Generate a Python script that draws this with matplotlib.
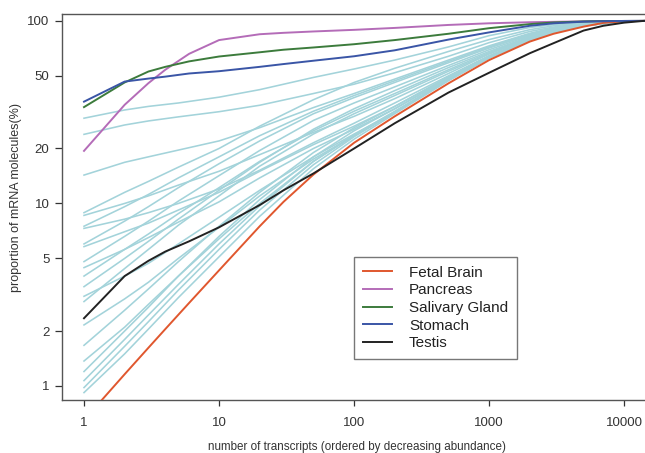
import matplotlib
matplotlib.use("Agg")
import matplotlib.pyplot as plt

plt.rcParams['font.family'] = ['Liberation Sans', 'DejaVu Sans']

# transcript ranks used for the light blue (other tissues) curves
N_BG = [1, 2, 3, 5, 10, 20, 50, 100, 200, 500, 1000, 2000, 3000, 5000, 10000, 14000]

other_tissues = [
    [29.3, 32.5, 34.0, 35.5, 38.2, 42.0, 49.0, 54.5, 61.0, 72.0, 83.0, 92.0, 95.5, 98.3, 99.8, 100],
    [23.9, 26.9, 28.3, 29.8, 31.8, 34.5, 40.0, 45.0, 52.0, 64.0, 76.0, 87.5, 92.5, 97.0, 99.7, 100],
    [14.3, 16.8, 18.0, 19.6, 22.0, 26.0, 33.5, 40.0, 48.0, 61.0, 73.0, 85.5, 91.5, 96.5, 99.6, 100],
    [8.9, 11.5, 13.2, 15.8, 20.0, 26.5, 37.0, 46.0, 55.0, 68.0, 79.0, 89.5, 94.0, 97.8, 99.8, 100],
    [8.6, 10.0, 11.0, 12.6, 15.0, 18.5, 24.5, 30.0, 37.5, 51.5, 66.0, 80.5, 88.0, 95.0, 99.4, 100],
    [7.5, 9.6, 11.2, 13.8, 18.0, 23.5, 32.0, 39.0, 47.0, 60.0, 72.0, 84.5, 90.8, 96.2, 99.6, 100],
    [7.3, 8.2, 8.9, 10.0, 12.0, 15.2, 21.5, 27.5, 35.5, 50.0, 64.5, 79.5, 87.5, 94.5, 99.3, 100],
    [6.0, 8.0, 9.6, 12.2, 16.5, 22.0, 31.0, 38.0, 46.0, 59.0, 71.0, 84.0, 90.5, 96.0, 99.6, 100],
    [5.8, 7.0, 7.8, 9.2, 11.5, 15.0, 21.0, 26.5, 34.0, 49.0, 64.0, 79.0, 87.3, 94.5, 99.3, 100],
    [4.8, 6.6, 8.0, 10.3, 14.2, 19.5, 28.5, 35.5, 43.5, 57.0, 69.5, 83.0, 90.0, 95.8, 99.5, 100],
    [4.45, 5.6, 6.5, 7.9, 10.2, 13.8, 20.0, 25.5, 33.0, 48.5, 63.5, 79.0, 87.3, 94.3, 99.3, 100],
    [4.0, 5.6, 6.8, 8.8, 12.2, 17.0, 25.0, 32.0, 40.0, 54.0, 67.0, 81.5, 89.0, 95.5, 99.5, 100],
    [3.5, 5.0, 6.2, 8.2, 11.8, 16.8, 25.5, 33.0, 41.5, 55.5, 68.0, 82.0, 89.3, 95.5, 99.5, 100],
    [3.1, 4.0, 4.7, 6.0, 8.4, 11.8, 18.0, 24.0, 31.5, 47.5, 63.0, 78.5, 87.0, 94.2, 99.3, 100],
    [2.9, 4.4, 5.6, 7.6, 11.0, 16.0, 24.0, 31.0, 39.0, 53.0, 66.0, 80.5, 88.3, 95.0, 99.4, 100],
    [2.16, 3.0, 3.7, 5.0, 7.4, 11.0, 17.5, 23.5, 31.5, 47.5, 63.0, 78.2, 86.8, 94.2, 99.3, 100],
    [1.67, 2.6, 3.4, 4.8, 7.5, 11.5, 19.0, 26.0, 34.0, 49.5, 64.0, 79.0, 87.3, 94.5, 99.3, 100],
    [1.37, 2.1, 2.8, 4.0, 6.4, 10.0, 17.0, 23.5, 31.5, 47.5, 62.8, 78.0, 86.6, 94.0, 99.3, 100],
    [1.2, 2.0, 2.7, 4.0, 6.6, 10.5, 18.0, 25.0, 33.0, 48.5, 63.5, 78.5, 87.0, 94.3, 99.3, 100],
    [1.07, 1.8, 2.45, 3.6, 6.0, 9.7, 17.0, 23.8, 32.0, 48.0, 63.3, 78.6, 87.0, 94.3, 99.3, 100],
    [0.98, 1.65, 2.25, 3.35, 5.6, 9.2, 16.3, 23.2, 31.5, 47.5, 63.0, 78.3, 86.8, 94.2, 99.3, 100],
    [0.92, 1.5, 2.05, 3.05, 5.1, 8.5, 15.5, 22.5, 31.0, 47.0, 62.5, 78.0, 86.5, 94.0, 99.3, 100],
]

# transcript ranks for the highlighted tissues
N_HL = [1, 2, 3, 4, 6, 10, 20, 30, 50, 100, 200, 500, 1000, 2000, 3000, 5000, 7000, 10000, 14000]

fetal_brain = [0.65, 1.16, 1.62, 2.05, 2.85, 4.3, 7.5, 10.2, 14.4, 21.5, 30.0, 45.5, 61.0, 77.0, 85.0, 93.0, 97.5, 99.5, 100]
pancreas = [19.4, 34.7, 45.6, 54.0, 66.0, 78.5, 84.5, 86.0, 87.5, 89.3, 91.5, 95.0, 97.0, 98.3, 98.8, 99.4, 99.7, 99.9, 100]
salivary = [33.7, 46.0, 52.8, 56.0, 60.0, 63.8, 67.3, 69.5, 71.5, 74.5, 78.5, 85.0, 91.2, 96.0, 98.0, 99.3, 99.7, 99.9, 100]
stomach = [36.1, 46.5, 48.3, 49.5, 51.5, 53.0, 56.0, 58.0, 60.5, 64.0, 69.0, 79.0, 86.5, 94.0, 97.0, 99.0, 99.6, 99.9, 100]
testis = [2.35, 4.0, 4.85, 5.45, 6.2, 7.4, 9.8, 11.8, 14.6, 20.0, 27.5, 40.5, 52.0, 66.5, 75.5, 88.5, 94.0, 97.8, 100]

highlight_names = ["Fetal Brain", "Pancreas", "Salivary Gland", "Stomach", "Testis"]
highlight_data = [fetal_brain, pancreas, salivary, stomach, testis]
highlight_colors = ["#E0572E", "#B46CB8", "#3C7B3C", "#3A55A6", "#222222"]

x_ticks = [1, 10, 100, 1000, 10000]
y_ticks = [1, 2, 5, 10, 20, 50, 100]

fig = plt.figure(figsize=(6.45, 4.53), dpi=100)
ax = fig.add_axes([0.0961, 0.117, 0.915, 0.852])

for vals in other_tissues:
    ax.plot(N_BG, vals, color="#A3D3DA", lw=1.15, zorder=2)

handles = []
for name, vals, col in zip(highlight_names, highlight_data, highlight_colors):
    h, = ax.plot(N_HL, vals, color=col, lw=1.4, label=name, zorder=3)
    handles.append(h)

ax.set_xscale("log")
ax.set_yscale("log")
ax.set_xlim(0.687, 16100)
ax.set_ylim(0.838, 109)

ax.set_xticks(x_ticks)
ax.set_xticklabels([str(v) for v in x_ticks])
ax.set_yticks(y_ticks)
ax.set_yticklabels([str(v) for v in y_ticks])
ax.minorticks_off()

ax.tick_params(axis="x", length=4.5, width=0.9, pad=8, labelsize=9.5, colors="#333333")
ax.tick_params(axis="y", length=5, width=0.9, pad=4, labelsize=9.5, colors="#333333")

for side in ["left", "top", "bottom"]:
    ax.spines[side].set_color("#555555")
    ax.spines[side].set_linewidth(1.0)
ax.spines["right"].set_visible(False)

fig.text(0.553, 0.013, "number of transcripts (ordered by decreasing abundance)",
         ha="center", va="center", fontsize=8.4, color="#333333")
fig.text(0.025, 0.565, "proportion of mRNA molecules(%)", rotation=90,
         ha="center", va="center", fontsize=9, color="#333333")

leg = ax.legend(handles=handles, loc="upper left", bbox_to_anchor=(0.495, 0.370),
                fontsize=11, frameon=True, fancybox=False, borderaxespad=0,
                handlelength=1.9, handletextpad=1.15, labelspacing=0.24, borderpad=0.55)
leg.get_frame().set_edgecolor("#555555")
leg.get_frame().set_linewidth(1.0)
for t in leg.get_texts():
    t.set_color("#222222")

fig.savefig("out.png", dpi=100, facecolor="white")
